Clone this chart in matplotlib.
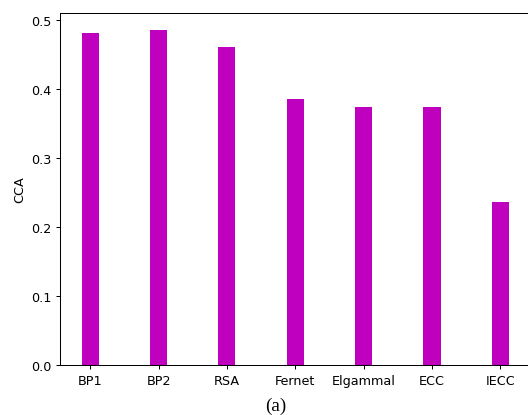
import matplotlib
matplotlib.use("Agg")
import matplotlib.pyplot as plt
import numpy as np

categories = ["BP1", "BP2", "RSA", "Fernet", "Elgammal", "ECC", "IECC"]
cca = [0.482, 0.486, 0.461, 0.386, 0.374, 0.374, 0.237]

DPI = 92
fig = plt.figure(figsize=(528 / DPI, 416 / DPI), dpi=DPI)
ax = fig.add_axes([60.3 / 528, 50 / 416, 470 / 528, 352 / 416])

x = np.arange(len(categories))
ax.bar(x, cca, width=0.25, color="m")
ax.set_xticks(x)
ax.set_xticklabels(categories)
ax.set_ylabel("CCA")

fig.text(275.5 / 528, 5 / 416, "(a)", family="Liberation Serif", fontsize=15,
         ha="center", va="baseline")

fig.savefig("out.png", dpi=DPI)
